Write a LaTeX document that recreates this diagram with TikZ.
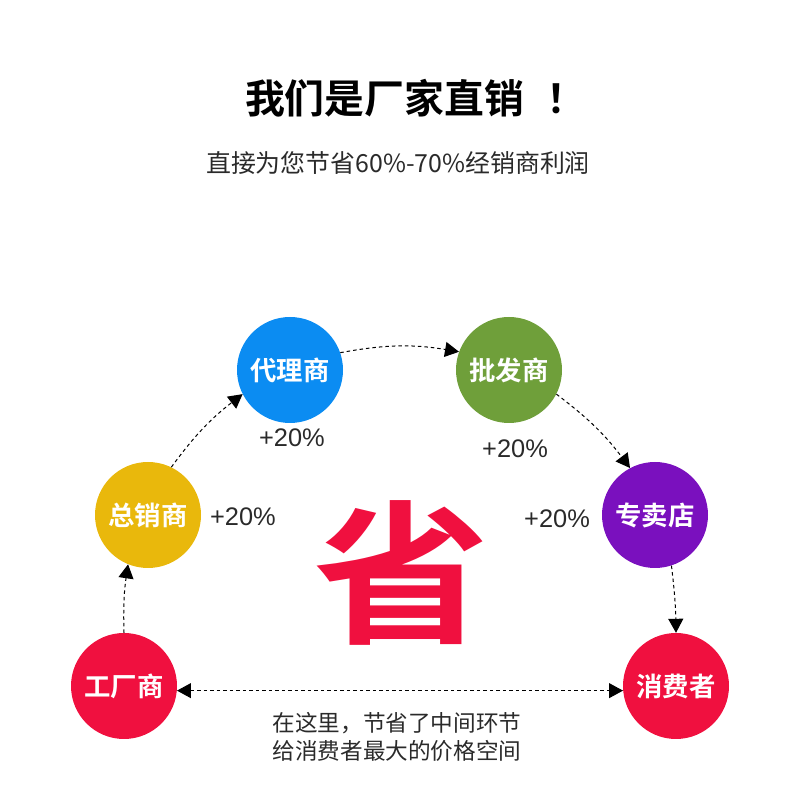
\documentclass[tikz,border=0pt]{standalone}
\usepackage{fontspec}
\usetikzlibrary{arrows.meta}
\setmainfont{Liberation Sans}
\newfontfamily\cjk{Noto Sans CJK SC}
\newfontfamily\cjkb{Noto Sans CJK SC Bold}
\definecolor{cblue}{HTML}{0B8CF2}
\definecolor{cyellow}{HTML}{E9B80C}
\definecolor{cgreen}{HTML}{6F9F3A}
\definecolor{cpurple}{HTML}{7A10BE}
\definecolor{cred}{HTML}{F0103F}
\definecolor{ctext}{HTML}{2A2A2A}
\tikzset{
  stage/.style={circle,minimum size=106bp,inner sep=0pt,text=white,font=\cjkb\fontsize{26.5}{26.5}\selectfont},
  pct/.style={text=ctext,font=\fontsize{25.5}{25.5}\selectfont,inner sep=0pt},
  flow/.style={line width=1bp,black,dash pattern=on 3.5bp off 3bp,-{Triangle[length=14bp,width=15bp]}},
  flowboth/.style={flow,{Triangle[length=14bp,width=15bp]}-{Triangle[length=14bp,width=15bp]}}
}
\begin{document}
\begin{tikzpicture}[x=1bp,y=1bp]
\useasboundingbox (0,0) rectangle (800,800);
\node[text=black,font=\cjkb\fontsize{40}{40}\selectfont,inner sep=0pt] (title) at (415.5,702) {我们是厂家直销\hspace{22bp}！};
\node[text=ctext,font=\cjk\fontsize{25}{25}\selectfont,inner sep=0pt] (sub) at (398,637) {直接为您节省60\%-70\%经销商利润};
\node[stage,fill=cred] (factory) at (124,114) {工厂商};
\node[stage,fill=cyellow] (general) at (148,285) {总销商};
\node[stage,fill=cblue] (agent) at (290,430) {代理商};
\node[stage,fill=cgreen] (whole) at (509,430) {批发商};
\node[stage,fill=cpurple] (shop) at (655,285) {专卖店};
\node[stage,fill=cred] (buyer) at (676,114) {消费者};
\node[pct] (p1) at (292,362) {+20\%};
\node[pct] (p2) at (243,283) {+20\%};
\node[pct] (p3) at (515,351) {+20\%};
\node[pct] (p4) at (557,281) {+20\%};
\node[text=cred,font=\cjkb\fontsize{172}{172}\selectfont,inner sep=0pt,transform shape,xscale=1.03,yscale=0.9] (save) at (401.5,227) {省};
\node[text=ctext,font=\cjk\fontsize{22.7}{28}\selectfont,align=center,inner sep=0pt] (note) at (397,63) {在这里，节省了中间环节\\给消费者最大的价格空间};
\draw[flow] (factory.90) to[bend left=5] (general.248);
\draw[flow] (general.64) to[bend left=8] (agent.207);
\draw[flow] (agent.19) to[bend left=10] (whole.160);
\draw[flow] (whole.-27) to[bend left=8] (shop.118);
\draw[flow] (shop.-72) to[bend left=3] (buyer.90);
\draw[flowboth] (factory.-5) -- (buyer.185);
\end{tikzpicture}
\end{document}
